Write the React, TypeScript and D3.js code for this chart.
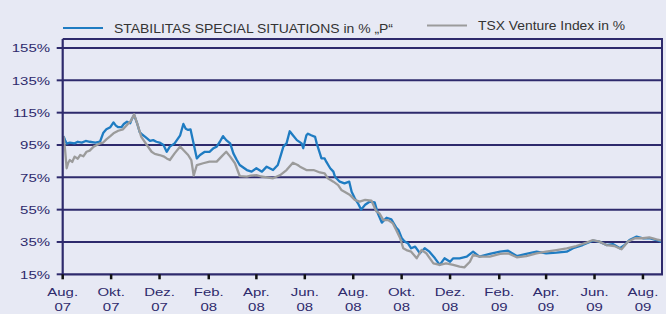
import React from "react";
import * as d3 from "d3";

// Day offsets from 2007-08-01 and values in %
const fundDay = [1,3,5,9,15,19,24,29,34,41,47,51,55,60,64,67,70,74,77,81,85,87,90,94,97,100,104,110,114,118,122,127,131,135,141,148,152,155,158,161,164,169,173,179,185,190,194,198,202,206,211,215,219,223,232,238,244,251,257,265,271,275,278,282,286,290,295,301,303,307,309,313,318,320,324,326,330,332,337,341,343,349,355,361,364,368,372,376,381,387,393,397,402,408,414,420,423,427,431,435,439,444,450,456,462,469,475,481,488,492,500,509,517,525,538,551,561,572,584,597,609,622,635,643,655,668,676,685,693,702,708,714,723,731,739,748,754];
const fundPct = [100.5,98,95.9,96.5,96,97,96.5,97.5,97,96.5,97,102.4,104.7,106,109,107,106,106,108,109.4,108.4,111,113.5,108,103,101.5,100,97.5,98,97,96.5,95,90.8,94,96,101,108,105,104.3,104.7,98,86.7,88.8,90.8,90.8,93,94,97,100.5,98,96,89.8,86,82.6,79.5,78.5,80.6,78.5,81.6,79.5,82.6,89,94,96,103.5,101,98,96,93,101,102,101,100,96,89.8,86.7,86.7,84.7,80.6,78.5,75.4,72.3,71.3,72.3,66,62,58.9,55,58,60,59.5,52.7,47,50,49,44,42.4,37.5,35.2,34.2,31.1,32.1,28,31.1,29,24.9,20.8,24.9,22.8,24.9,24.9,25.9,29,25.9,27.6,29,29.6,26.3,27.6,29,28,28.4,29,31.1,33.1,35.8,35.2,33.1,33.7,31.1,33.1,36.2,38.3,37.3,37.3,36.2,35.2];

const tsxDay = [1,3,5,7,9,12,15,19,22,26,30,34,39,43,47,51,55,60,64,70,76,83,86,90,94,99,106,112,116,122,127,131,135,141,148,152,158,162,165,169,177,185,194,200,206,211,217,223,232,237,244,250,257,265,274,282,290,296,299,307,316,324,330,334,341,347,351,355,362,368,374,381,389,395,399,404,410,416,420,425,429,433,439,446,452,458,467,475,483,492,500,506,513,517,525,538,551,561,572,584,597,609,622,635,647,660,668,676,685,695,704,712,721,731,739,748,755];
const tsxPct = [100.5,92,80.6,84,85.7,84.5,87.8,86.5,88.8,88,90.8,91.5,94,95,96,96.5,98.5,100.5,102.2,103.8,104.7,108.4,110,114,108,100,95,90.8,89.5,88.8,88,86.7,85.7,89.8,94,91.9,88.8,85.7,76,82.6,83.7,84.7,84.7,87.8,90.8,87.8,83.7,75.8,75.4,76,76.4,75.5,75,74.4,76.4,79.5,84,82.6,81.6,79.5,79.5,78,77.5,74.4,72.3,70.2,67.2,66.1,64,61,60,61,60.5,54,52.7,48.5,48.5,46.5,42.5,37.5,31.1,30,29,24.9,30,28,21.8,20.8,21.8,20.8,19.7,19.3,22.8,27,25.9,25.9,27.6,28,25.5,26.3,28,29,30,31.1,32.5,34.6,36.2,35.2,33.1,32.5,30.5,35.2,37.3,37.3,37.9,36.6,35.8];

const yTicks = [15, 35, 55, 75, 95, 115, 135, 155];
const xTickDates = ["2007-08-01","2007-10-01","2007-12-01","2008-02-01","2008-04-01","2008-06-01","2008-08-01","2008-10-01","2008-12-01","2009-02-01","2009-04-01","2009-06-01","2009-08-01"];
const xTickMonth = ["Aug.","Okt.","Dez.","Feb.","Apr.","Jun.","Aug.","Okt.","Dez.","Feb.","Apr.","Jun.","Aug."];
const xTickYear = ["07","07","07","08","08","08","08","08","08","09","09","09","09"];
const seriesNames = ["STABILITAS SPECIAL SITUATIONS in % \u201eP\u201c", "TSX Venture Index in %"];

const W = 666, H = 314;
const BG = "#e7e9f4";
const NAVY = "#2e2a6c";
const BLUE = "#1f7cc2";
const GRAY = "#9b9b9b";

export default function App() {
  const start = new Date(2007, 7, 1);
  const end = d3.timeDay.offset(start, 755);
  const x = d3.scaleTime().domain([start, end]).range([62.7, 662]);
  const y = d3.scaleLinear().domain([15, 155]).range([274.3, 48]);
  const top = 39;
  const left = x.range()[0];
  const right = x.range()[1];
  const bottom = y(15);

  const parse = d3.timeParse("%Y-%m-%d");
  const line = d3
    .line<[number, number]>()
    .x((d) => x(d3.timeDay.offset(start, d[0])))
    .y((d) => y(d[1]));
  const fundData: [number, number][] = fundDay.map((d, i) => [d, fundPct[i]]);
  const tsxData: [number, number][] = tsxDay.map((d, i) => [d, tsxPct[i]]);

  const font = "'Liberation Sans', Arial, Helvetica, sans-serif";

  return (
    <svg
      width={W}
      height={H}
      style={{ position: "fixed", left: 0, top: 0, display: "block" }}
      fontFamily={font}
    >
      <rect x={0} y={0} width={W} height={H} fill={BG} />

      {/* legend */}
      <line x1={63} x2={103} y1={28} y2={28} stroke={BLUE} strokeWidth={2.2} />
      <text x={114} y={32.5} fontSize={13} fill="#333" textLength={279} lengthAdjust="spacingAndGlyphs">
        {seriesNames[0]}
      </text>
      <line x1={427} x2={467} y1={25.5} y2={25.5} stroke={GRAY} strokeWidth={2.2} />
      <text x={478} y={30} fontSize={13} fill="#333" textLength={147} lengthAdjust="spacingAndGlyphs">
        {seriesNames[1]}
      </text>

      {/* grid lines */}
      {yTicks.map((t) => (
        <g key={t}>
          {t !== 15 && (
            <line x1={left} x2={right} y1={y(t)} y2={y(t)} stroke={NAVY} strokeWidth={2} />
          )}
          <line x1={left - 6} x2={left} y1={y(t)} y2={y(t)} stroke={NAVY} strokeWidth={2} />
          <text
            transform={`translate(50,${y(t) + 4.2}) scale(1.3,1)`}
            textAnchor="end"
            fontSize={11.5}
            fill={NAVY}
          >
            {t}%
          </text>
        </g>
      ))}

      {/* series */}
      <path d={line(fundData) || ""} fill="none" stroke={BLUE} strokeWidth={2.3} strokeLinejoin="round" />
      <path d={line(tsxData) || ""} fill="none" stroke={GRAY} strokeWidth={2.3} strokeLinejoin="round" />

      {/* frame */}
      <line x1={left} x2={right + 1} y1={top} y2={top} stroke={NAVY} strokeWidth={2} />
      <line x1={right} x2={right} y1={top} y2={bottom} stroke={NAVY} strokeWidth={2} />
      <line x1={left} x2={left} y1={top} y2={bottom + 1} stroke={NAVY} strokeWidth={2.2} />
      <line x1={left} x2={right + 1} y1={bottom} y2={bottom} stroke={NAVY} strokeWidth={2.2} />

      {/* x ticks */}
      {xTickDates.map((ds, i) => {
        const px = x(parse(ds) as Date);
        return (
          <g key={ds + i}>
            <line x1={px} x2={px} y1={bottom} y2={bottom + 5} stroke="#111" strokeWidth={2.5} />
            <text transform={`translate(${px},296) scale(1.3,1)`} textAnchor="middle" fontSize={11.5} fill={NAVY}>
              {xTickMonth[i]}
            </text>
            <text transform={`translate(${px},311) scale(1.3,1)`} textAnchor="middle" fontSize={11.5} fill={NAVY}>
              {xTickYear[i]}
            </text>
          </g>
        );
      })}
    </svg>
  );
}
